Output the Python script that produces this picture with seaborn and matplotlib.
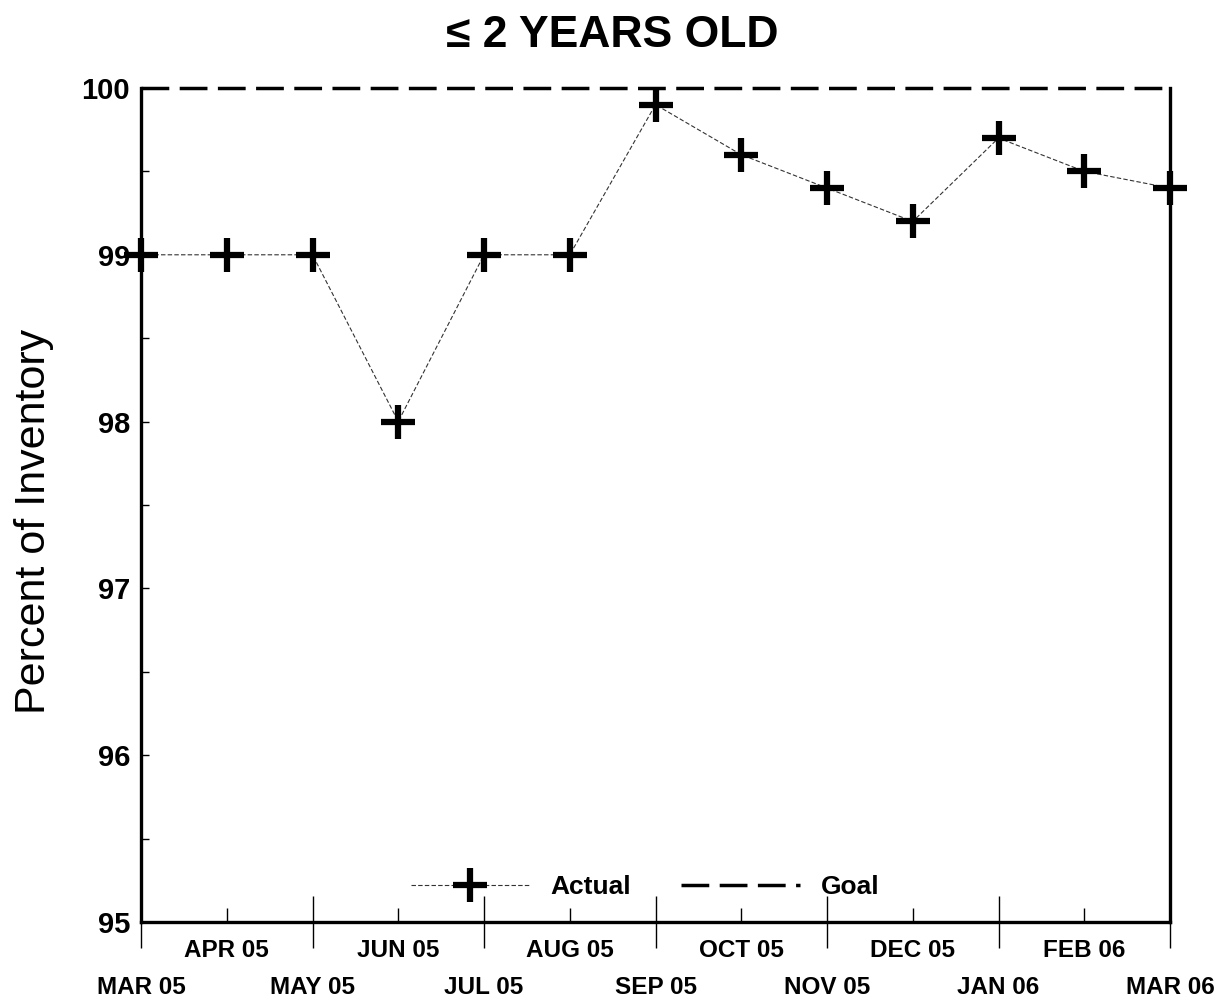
import matplotlib
matplotlib.use("Agg")
import matplotlib.pyplot as plt
import seaborn as sns
import pandas as pd
from matplotlib.lines import Line2D

months = ["MAR 05", "APR 05", "MAY 05", "JUN 05", "JUL 05", "AUG 05", "SEP 05",
          "OCT 05", "NOV 05", "DEC 05", "JAN 06", "FEB 06", "MAR 06"]
actual = [99.0, 99.0, 99.0, 98.0, 99.0, 99.0, 99.9, 99.6, 99.4, 99.2, 99.7, 99.5, 99.4]
goal = [100.0] * len(months)
yticks = [95, 96, 97, 98, 99, 100]

sns.set_theme(style="white")
plt.rcParams["font.family"] = ["Liberation Sans", "DejaVu Sans"]
plt.rcParams["text.color"] = "black"
plt.rcParams["axes.labelcolor"] = "black"

df = pd.DataFrame({"idx": range(len(months)), "month": months, "actual": actual, "goal": goal})

fig = plt.figure(figsize=(12.24, 10.02), dpi=100)
ax = fig.add_axes([0.1152, 0.0798, 0.8407, 0.8324])

sns.lineplot(data=df, x="idx", y="goal", ax=ax, color="black", linewidth=2.5,
             linestyle=(0, (8, 3)), clip_on=False)
sns.lineplot(data=df, x="idx", y="actual", ax=ax, color="#333333", linewidth=0.8,
             linestyle=(0, (4, 2)), marker="+", markersize=24, markeredgewidth=4.5,
             markeredgecolor="black", clip_on=False, zorder=5)

ax.set_xlim(0, len(months) - 1)
ax.set_ylim(95, 100)

ax.spines["top"].set_visible(False)
for s in ["left", "right", "bottom"]:
    ax.spines[s].set_linewidth(2.4)
    ax.spines[s].set_color("black")

major_idx = list(range(0, len(months), 2))
minor_idx = list(range(1, len(months), 2))
ax.set_xticks(major_idx)
ax.set_xticklabels([months[i] for i in major_idx])
ax.set_xticks(minor_idx, minor=True)
ax.set_xticklabels([months[i] for i in minor_idx], minor=True)
ax.tick_params(axis="x", which="major", direction="inout", length=38, width=1,
               pad=20, labelsize=17.5, colors="black", bottom=True)
ax.tick_params(axis="x", which="minor", direction="in", length=10, width=1,
               pad=12, labelsize=17.5, colors="black", bottom=True)
for lab in ax.get_xticklabels(which="both"):
    lab.set_fontweight("bold")

ax.set_yticks(yticks)
ax.set_yticks([95.5, 96.5, 97.5, 98.5, 99.5], minor=True)
ax.tick_params(axis="y", which="both", direction="in", length=6, width=1,
               pad=8, labelsize=21, colors="black", left=True)
for lab in ax.get_yticklabels():
    lab.set_fontweight("bold")

ax.set_xlabel("")
ax.set_ylabel("Percent of Inventory", fontsize=31, labelpad=24)
ax.yaxis.set_label_coords(-0.085, 0.48)
fig.suptitle("\u2264 2 YEARS OLD", x=0.5, y=0.965, va="center", fontsize=32,
             fontweight="bold", color="black")

handles = [Line2D([0], [0], color="#333333", linewidth=0.8, linestyle=(0, (4, 2)),
                  marker="+", markersize=24, markeredgewidth=4.5, markeredgecolor="black"),
           Line2D([0], [0], color="black", linewidth=2.5, linestyle=(0, (8, 3)))]
leg = ax.legend(handles, ["Actual", "Goal"], loc="center", bbox_to_anchor=(0.49, 0.042),
                ncol=2, frameon=False, handlelength=4.5, columnspacing=1.9,
                prop={"size": 19, "weight": "bold"})
for t in leg.get_texts():
    t.set_color("black")

fig.savefig("out.png", dpi=100)
